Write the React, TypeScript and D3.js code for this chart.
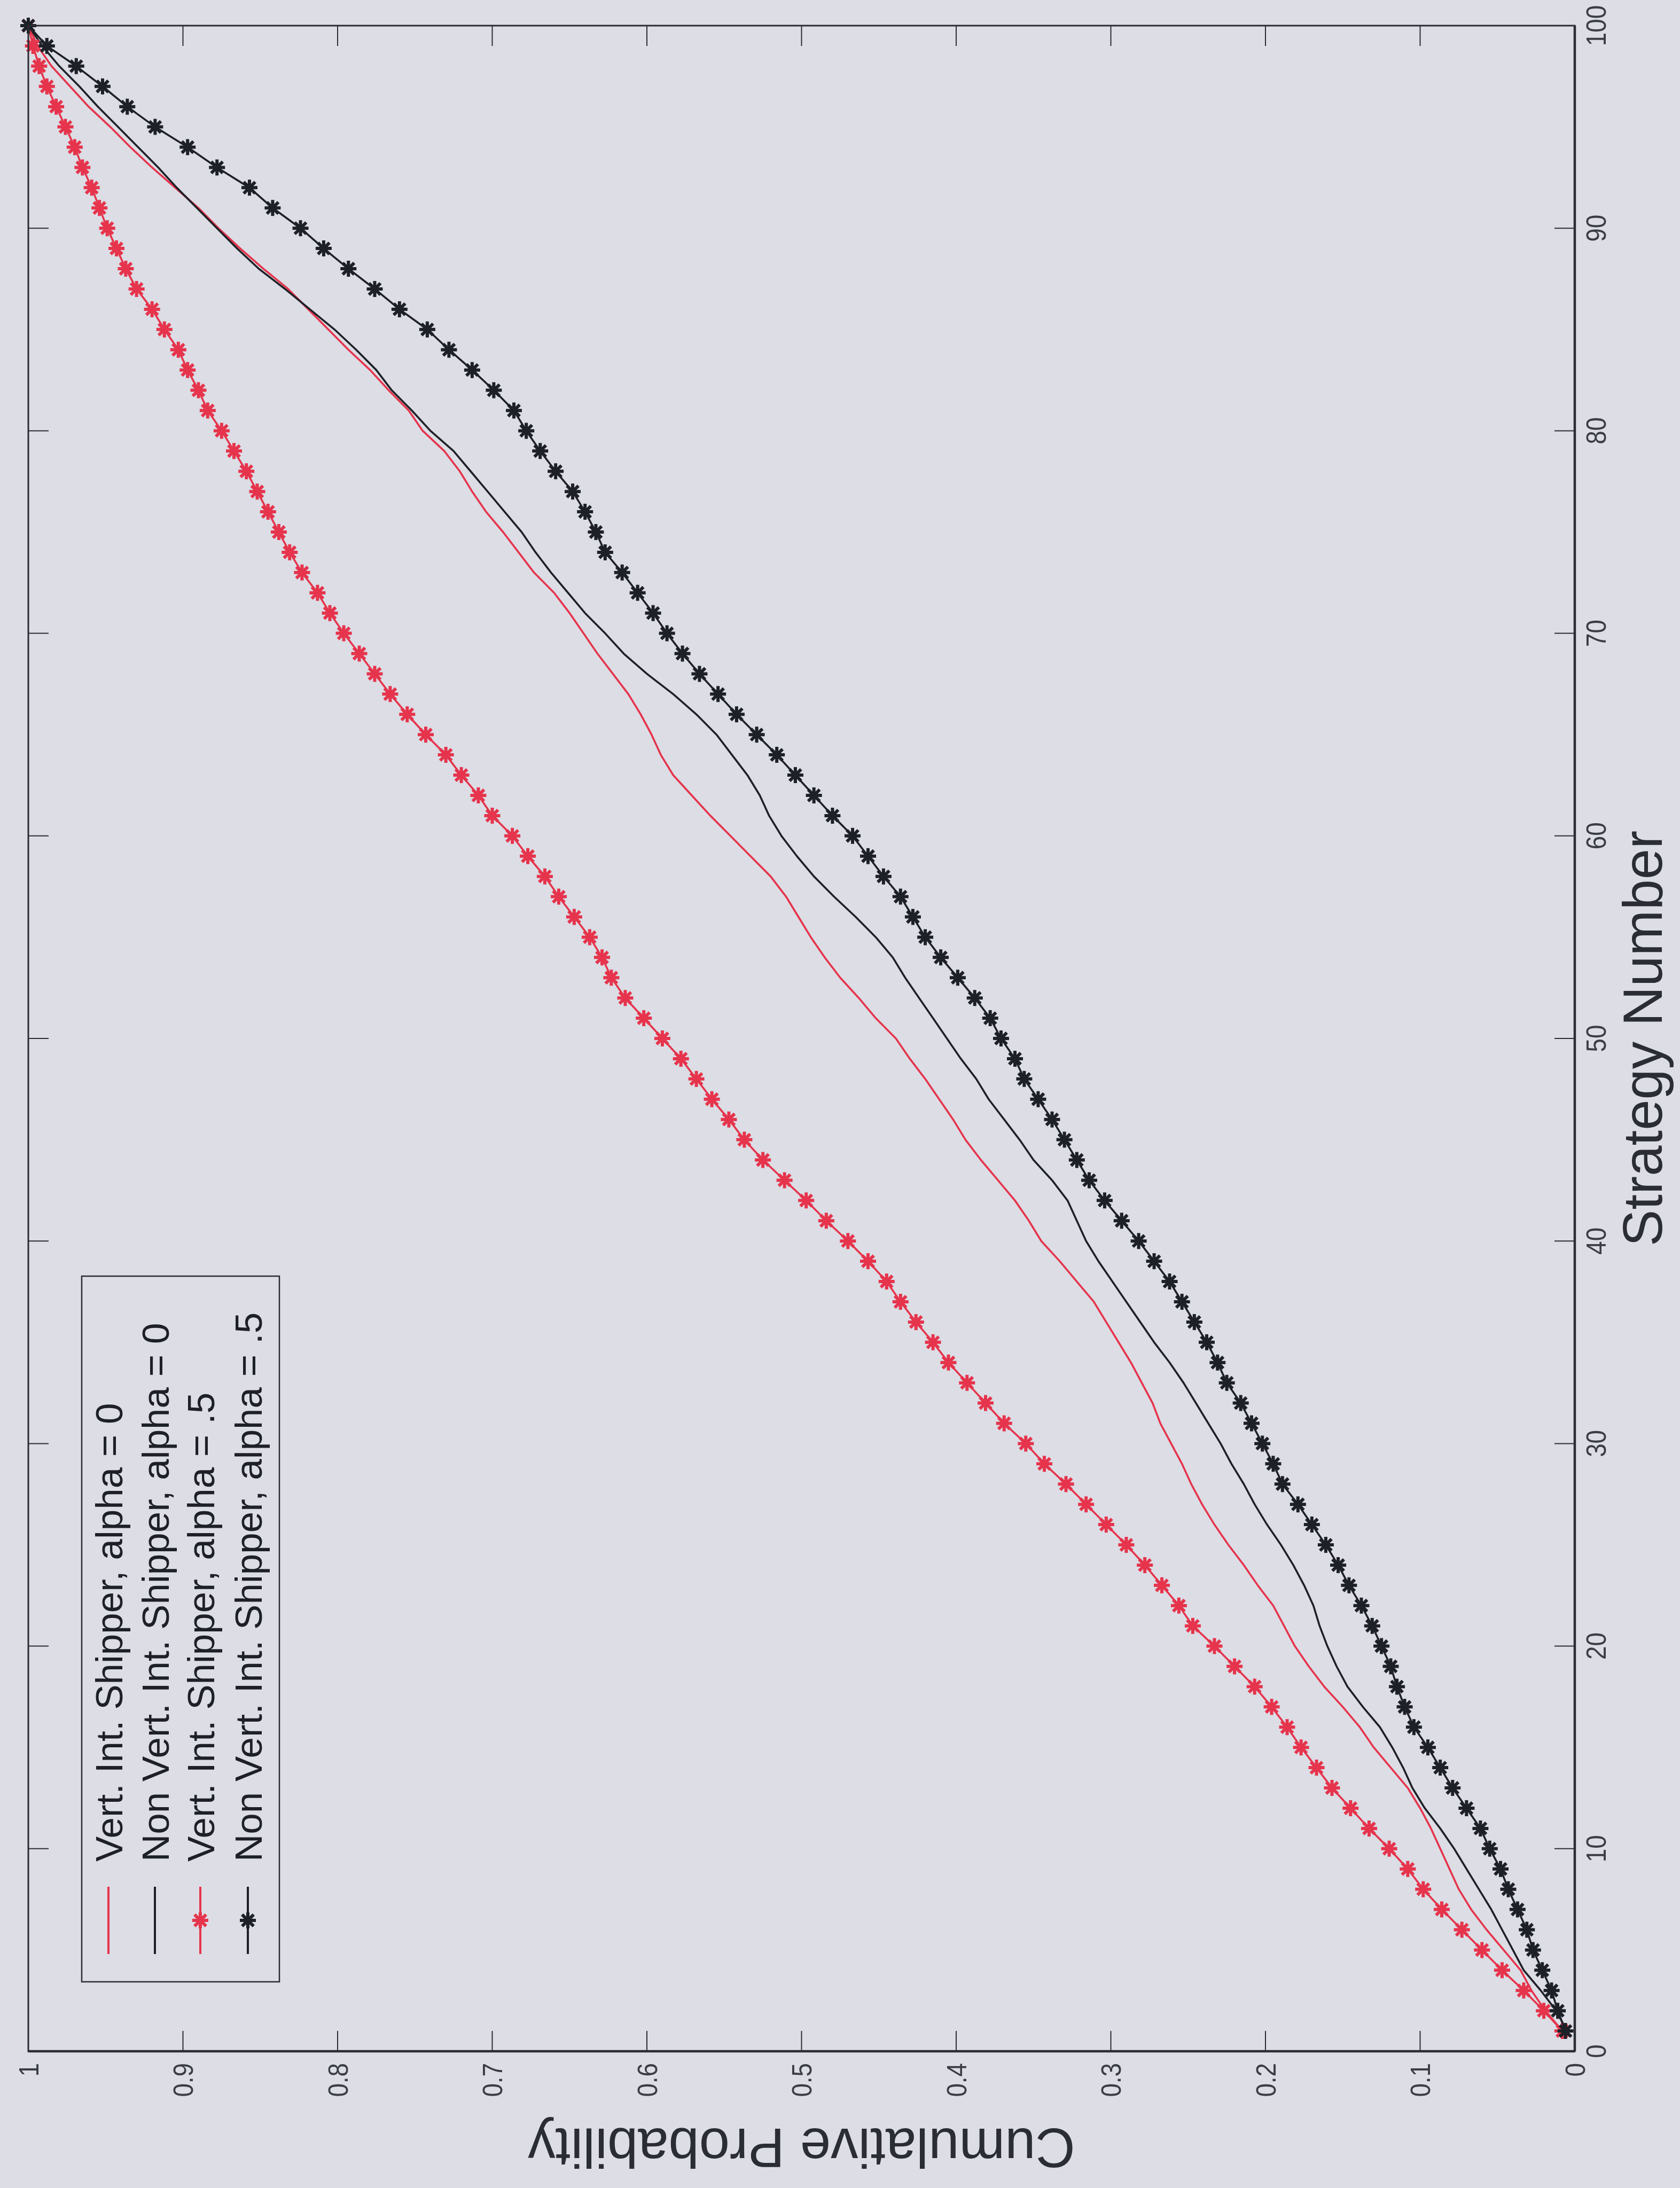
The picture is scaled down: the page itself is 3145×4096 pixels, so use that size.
import React from 'react';
import * as d3 from 'd3';

// Cumulative probability by strategy number (strategies 1..100)
const vertAlpha0 = [
  0.008, 0.019, 0.028, 0.035, 0.046, 0.057, 0.067, 0.075, 0.081, 0.087,
  0.093, 0.100, 0.108, 0.119, 0.130, 0.139, 0.150, 0.162, 0.172, 0.181,
  0.188, 0.195, 0.205, 0.214, 0.224, 0.233, 0.241, 0.248, 0.254, 0.261,
  0.268, 0.273, 0.280, 0.287, 0.295, 0.303, 0.311, 0.322, 0.333, 0.345,
  0.353, 0.362, 0.373, 0.384, 0.394, 0.402, 0.411, 0.420, 0.430, 0.439,
  0.452, 0.463, 0.475, 0.485, 0.494, 0.502, 0.510, 0.520, 0.533, 0.546,
  0.559, 0.571, 0.583, 0.591, 0.597, 0.604, 0.612, 0.622, 0.632, 0.641,
  0.650, 0.660, 0.673, 0.683, 0.693, 0.704, 0.713, 0.721, 0.731, 0.745,
  0.754, 0.767, 0.779, 0.793, 0.806, 0.819, 0.832, 0.848, 0.863, 0.877,
  0.890, 0.905, 0.920, 0.934, 0.947, 0.961, 0.973, 0.985, 0.994, 1.000,
];

const nonVertAlpha0 = [
  0.005, 0.012, 0.022, 0.033, 0.040, 0.047, 0.054, 0.062, 0.070, 0.078,
  0.087, 0.097, 0.105, 0.111, 0.118, 0.126, 0.137, 0.147, 0.154, 0.160,
  0.165, 0.169, 0.175, 0.182, 0.190, 0.199, 0.207, 0.214, 0.222, 0.229,
  0.237, 0.245, 0.253, 0.262, 0.272, 0.281, 0.290, 0.299, 0.308, 0.316,
  0.322, 0.328, 0.338, 0.350, 0.359, 0.369, 0.379, 0.387, 0.397, 0.406,
  0.415, 0.424, 0.433, 0.441, 0.452, 0.465, 0.479, 0.492, 0.503, 0.513,
  0.521, 0.527, 0.535, 0.545, 0.555, 0.568, 0.583, 0.600, 0.615, 0.627,
  0.640, 0.651, 0.662, 0.672, 0.681, 0.692, 0.703, 0.714, 0.725, 0.740,
  0.752, 0.765, 0.775, 0.788, 0.802, 0.818, 0.834, 0.851, 0.865, 0.878,
  0.891, 0.904, 0.916, 0.929, 0.942, 0.955, 0.967, 0.980, 0.991, 1.000,
];

const vertAlpha05 = [
  0.008, 0.020, 0.033, 0.047, 0.060, 0.073, 0.086, 0.098, 0.108, 0.120,
  0.133, 0.145, 0.157, 0.167, 0.177, 0.186, 0.196, 0.207, 0.220, 0.233,
  0.247, 0.256, 0.267, 0.278, 0.290, 0.303, 0.316, 0.329, 0.343, 0.355,
  0.369, 0.381, 0.393, 0.405, 0.415, 0.426, 0.436, 0.445, 0.457, 0.470,
  0.484, 0.497, 0.511, 0.525, 0.537, 0.547, 0.558, 0.568, 0.578, 0.590,
  0.602, 0.614, 0.623, 0.629, 0.637, 0.647, 0.657, 0.666, 0.677, 0.687,
  0.700, 0.709, 0.720, 0.730, 0.743, 0.755, 0.766, 0.776, 0.786, 0.796,
  0.805, 0.813, 0.823, 0.831, 0.838, 0.845, 0.852, 0.859, 0.867, 0.875,
  0.884, 0.890, 0.897, 0.903, 0.912, 0.920, 0.930, 0.937, 0.943, 0.949,
  0.954, 0.959, 0.965, 0.970, 0.976, 0.982, 0.988, 0.993, 0.997, 1.000,
];

const nonVertAlpha05 = [
  0.006, 0.011, 0.015, 0.021, 0.027, 0.031, 0.037, 0.043, 0.048, 0.055,
  0.061, 0.070, 0.079, 0.087, 0.095, 0.104, 0.110, 0.115, 0.119, 0.125,
  0.131, 0.138, 0.146, 0.153, 0.161, 0.170, 0.179, 0.189, 0.195, 0.202,
  0.209, 0.216, 0.225, 0.231, 0.238, 0.246, 0.254, 0.262, 0.272, 0.282,
  0.293, 0.304, 0.314, 0.322, 0.330, 0.338, 0.347, 0.356, 0.362, 0.371,
  0.378, 0.388, 0.399, 0.410, 0.420, 0.428, 0.436, 0.447, 0.457, 0.467,
  0.480, 0.492, 0.504, 0.516, 0.529, 0.542, 0.554, 0.566, 0.577, 0.587,
  0.596, 0.606, 0.616, 0.627, 0.633, 0.640, 0.648, 0.659, 0.669, 0.678,
  0.686, 0.699, 0.713, 0.728, 0.742, 0.760, 0.776, 0.793, 0.809, 0.824,
  0.842, 0.857, 0.878, 0.897, 0.918, 0.936, 0.952, 0.969, 0.988, 1.000,
];

const strategyTicks = [0, 10, 20, 30, 40, 50, 60, 70, 80, 90, 100];
const probTicks = [0, 0.1, 0.2, 0.3, 0.4, 0.5, 0.6, 0.7, 0.8, 0.9, 1];
const probTickLabels = ['0', '0.1', '0.2', '0.3', '0.4', '0.5', '0.6', '0.7', '0.8', '0.9', '1'];

const seriesLabels = [
  'Vert. Int. Shipper, alpha = 0',
  'Non Vert. Int. Shipper, alpha = 0',
  'Vert. Int. Shipper, alpha = .5',
  'Non Vert. Int. Shipper, alpha = .5',
];

const RED = '#e6344c';
const BLACK = '#1d2127';
const BG = '#dcdde5';
const FONT = '"Liberation Sans", Arial, Helvetica, sans-serif';

const series = [
  { label: seriesLabels[0], values: vertAlpha0, color: RED, marker: false },
  { label: seriesLabels[1], values: nonVertAlpha0, color: BLACK, marker: false },
  { label: seriesLabels[2], values: vertAlpha05, color: RED, marker: true },
  { label: seriesLabels[3], values: nonVertAlpha05, color: BLACK, marker: true },
];

// Axes box size in the unrotated frame; the whole figure is turned a quarter turn.
const W = 3792;
const H = 2895;
const OX = 53;
const OY = 3840;
const TICK = 38;

function starPath(r: number) {
  const k = r * 0.72;
  return `M${-r},0H${r}M0,${-r}V${r}M${-k},${-k}L${k},${k}M${-k},${k}L${k},${-k}`;
}

function Marker({ cx, cy, color }: { cx: number; cy: number; color: string }) {
  return (
    <g transform={`translate(${cx},${cy})`}>
      <path d={starPath(15)} stroke={color} strokeWidth={6} fill="none" />
      <circle r={7} fill={color} />
    </g>
  );
}

export default function App() {
  const x = d3.scaleLinear().domain([0, 100]).range([0, W]);
  const y = d3.scaleLinear().domain([0, 1]).range([H, 0]);
  const line = d3
    .line<number>()
    .x((_, i) => x(i + 1))
    .y((d) => y(d));

  // legend geometry (unrotated frame)
  const lg = { x0: 130, x1: 1451, y0: 100, y1: 470 };
  const rows = [150, 237, 322, 411];
  const sampleA = 182;
  const sampleB = 308;
  const sampleMid = 245;
  const textX = 355;

  return (
    <svg
      width={3145}
      height={4096}
      style={{ position: 'absolute', left: 0, top: 0, display: 'block' }}
      fontFamily={FONT}
    >
      <rect x={0} y={0} width={3145} height={4096} fill={BG} />
      <g transform={`translate(${OX},${OY}) rotate(-90)`}>
        {/* series */}
        {series.map((s, si) => (
          <g key={si}>
            <path
              d={line(s.values) || ''}
              fill="none"
              stroke={s.color}
              strokeWidth={3.6}
              strokeLinejoin="round"
            />
            {s.marker &&
              s.values.map((v, i) => <Marker key={i} cx={x(i + 1)} cy={y(v)} color={s.color} />)}
          </g>
        ))}

        {/* box */}
        <rect x={0} y={0} width={W} height={H} fill="none" stroke="#2a2d33" strokeWidth={3} />
        <line x1={0} x2={0} y1={0} y2={H} stroke="#2a2d33" strokeWidth={4.5} />
        <line x1={0} x2={W} y1={H} y2={H} stroke="#2a2d33" strokeWidth={4.5} />

        {/* strategy ticks on bottom and top edges */}
        {strategyTicks.map((t) => (
          <g key={`s${t}`}>
            <line x1={x(t)} x2={x(t)} y1={H} y2={H - TICK} stroke="#2a2d33" strokeWidth={2} />
            <line x1={x(t)} x2={x(t)} y1={0} y2={TICK} stroke="#2a2d33" strokeWidth={2} />
            <g transform={`translate(${x(t)},${H + 58}) scale(0.88,1)`}>
              <text textAnchor="middle" fontSize={52} fill="#3a3d44">
                {t}
              </text>
            </g>
          </g>
        ))}

        {/* probability ticks on left and right edges */}
        {probTicks.map((p, i) => (
          <g key={`p${i}`}>
            <line x1={0} x2={TICK} y1={y(p)} y2={y(p)} stroke="#2a2d33" strokeWidth={2} />
            <line x1={W} x2={W - TICK} y1={y(p)} y2={y(p)} stroke="#2a2d33" strokeWidth={2} />
            <g transform={`translate(${-22},${y(p)}) scale(0.88,1)`}>
              <text textAnchor="end" dy="0.36em" fontSize={52} fill="#3a3d44">
                {probTickLabels[i]}
              </text>
            </g>
          </g>
        ))}

        {/* axis titles */}
        <text x={W / 2} y={H + 163} textAnchor="middle" fontSize={103} fill="#2a2d33">
          Strategy Number
        </text>
        <text
          transform={`translate(${-145},${H / 2}) rotate(-90)`}
          textAnchor="middle"
          fontSize={103}
          fill="#2a2d33"
        >
          Cumulative Probability
        </text>

        {/* legend */}
        <rect
          x={lg.x0}
          y={lg.y0}
          width={lg.x1 - lg.x0}
          height={lg.y1 - lg.y0}
          fill={BG}
          stroke="#2a2d33"
          strokeWidth={2.5}
        />
        {series.map((s, i) => (
          <g key={`l${i}`}>
            <line
              x1={sampleA}
              x2={sampleB}
              y1={rows[i]}
              y2={rows[i]}
              stroke={s.color}
              strokeWidth={4}
            />
            {s.marker && <Marker cx={sampleMid} cy={rows[i]} color={s.color} />}
            <text x={textX} y={rows[i]} dy="0.36em" fontSize={71} fill="#1d2127">
              {s.label}
            </text>
          </g>
        ))}
      </g>
    </svg>
  );
}
